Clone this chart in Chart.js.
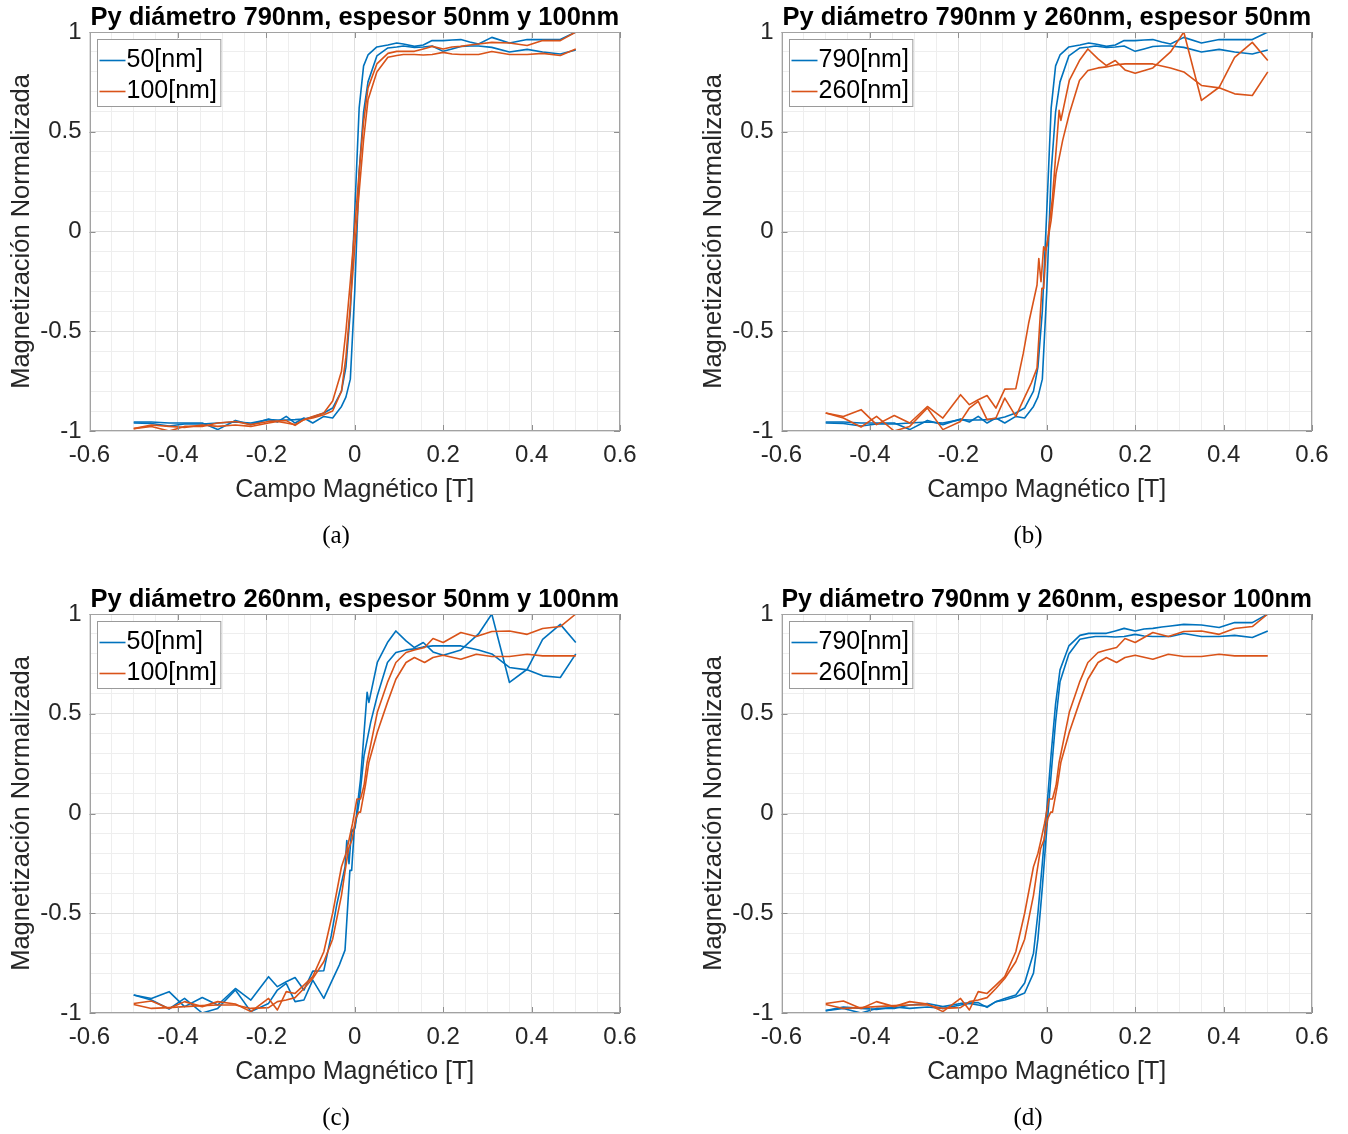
<!DOCTYPE html>
<html>
<head>
<meta charset="utf-8">
<script src="https://cdn.jsdelivr.net/npm/chart.js@4.4.1/dist/chart.umd.min.js"></script>
<style>
  body { margin: 0; width: 1348px; height: 1134px; background: #fff; overflow: hidden; position: relative; }
  .panel { position: absolute; width: 654px; height: 552px; }
  .cap { position: absolute; left: 0; top: 521px; width: 672px; text-align: center;
         font: 25px "Liberation Serif", "DejaVu Serif", serif; line-height: 28px; color: #000; }
</style>
</head>
<body>
<div class="panel" style="left:0;top:0"><canvas id="cA" width="654" height="552"></canvas><div class="cap">(a)</div></div>
<div class="panel" style="left:692px;top:0"><canvas id="cB" width="654" height="552"></canvas><div class="cap">(b)</div></div>
<div class="panel" style="left:0;top:582px"><canvas id="cC" width="654" height="552"></canvas><div class="cap">(c)</div></div>
<div class="panel" style="left:692px;top:582px"><canvas id="cD" width="654" height="552"></canvas><div class="cap">(d)</div></div>
<script>
// Major tick values (labelled) for both axes
const xMajorTicks = [-0.6, -0.4, -0.2, 0, 0.2, 0.4, 0.6];
const yMajorTicks = [-1, -0.5, 0, 0.5, 1];

// Py 790nm diameter, 50nm thick - two branches of the loop
const d790e50_a_x = [-0.5,-0.46,-0.42,-0.385,-0.345,-0.31,-0.27,-0.235,-0.195,-0.175,-0.155,-0.135,-0.115,-0.095,-0.07,-0.05,-0.03,-0.02,-0.01,0,0.01,0.02,0.03,0.05,0.075,0.095,0.11,0.135,0.155,0.175,0.2,0.22,0.24,0.26,0.28,0.31,0.35,0.39,0.425,0.465,0.5];
const d790e50_a_y = [-0.96,-0.962,-0.975,-0.965,-0.965,-0.96,-0.955,-0.96,-0.943,-0.945,-0.945,-0.943,-0.94,-0.93,-0.91,-0.885,-0.8,-0.68,-0.4,0.1,0.62,0.83,0.885,0.925,0.935,0.945,0.94,0.928,0.935,0.957,0.957,0.96,0.962,0.95,0.94,0.973,0.945,0.962,0.962,0.962,1.0];
const d790e50_b_x = d790e50_a_x;
const d790e50_b_y = [-0.955,-0.955,-0.96,-0.96,-0.96,-0.993,-0.947,-0.968,-0.94,-0.955,-0.927,-0.96,-0.935,-0.96,-0.927,-0.935,-0.877,-0.83,-0.74,-0.3,0.3,0.6,0.75,0.88,0.92,0.925,0.93,0.922,0.925,0.93,0.903,0.915,0.927,0.93,0.93,0.923,0.9,0.913,0.9,0.89,0.91];

// Py 790nm diameter, 100nm thick
const d790e100_a_x = d790e50_a_x;
const d790e100_a_y = [-0.988,-0.977,-1.0,-0.977,-0.977,-0.96,-0.952,-0.968,-0.952,-0.95,-0.948,-0.972,-0.943,-0.927,-0.91,-0.85,-0.7,-0.5,-0.25,0.02,0.3,0.55,0.72,0.84,0.893,0.903,0.903,0.903,0.915,0.928,0.915,0.925,0.928,0.935,0.94,0.948,0.945,0.932,0.957,0.957,1.0];
const d790e100_b_x = d790e50_a_x;
const d790e100_b_y = [-0.988,-0.97,-0.977,-0.982,-0.97,-0.977,-0.97,-0.977,-0.96,-0.952,-0.96,-0.968,-0.943,-0.935,-0.918,-0.9,-0.8,-0.63,-0.37,-0.08,0.2,0.46,0.66,0.8,0.873,0.882,0.887,0.887,0.885,0.887,0.898,0.89,0.887,0.887,0.887,0.902,0.887,0.887,0.893,0.882,0.915];

// Py 260nm diameter, 50nm thick
const d260e50_a_x = [-0.5,-0.46,-0.42,-0.385,-0.345,-0.31,-0.27,-0.235,-0.195,-0.175,-0.155,-0.135,-0.115,-0.095,-0.07,-0.053,-0.041,-0.022,-0.018,-0.013,-0.007,-0.003,0.001,0.007,0.013,0.028,0.032,0.051,0.074,0.093,0.116,0.135,0.155,0.177,0.2,0.24,0.28,0.31,0.35,0.39,0.425,0.465,0.5];
const d260e50_a_y = [-0.91,-0.927,-0.893,-0.968,-0.922,-0.96,-0.877,-0.935,-0.818,-0.868,-0.843,-0.822,-0.885,-0.79,-0.788,-0.61,-0.46,-0.268,-0.135,-0.252,-0.077,-0.093,-0.068,0.057,0.17,0.607,0.557,0.757,0.857,0.915,0.865,0.832,0.857,0.81,0.793,0.82,0.9,1.0,0.657,0.723,0.873,0.948,0.857];
const d260e50_b_x = [-0.5,-0.46,-0.42,-0.385,-0.345,-0.31,-0.27,-0.235,-0.195,-0.175,-0.155,-0.135,-0.115,-0.095,-0.07,-0.052,-0.035,-0.022,-0.011,-0.007,-0.001,0.005,0.01,0.021,0.036,0.051,0.074,0.093,0.116,0.135,0.155,0.177,0.2,0.24,0.28,0.31,0.35,0.39,0.425,0.465,0.5];
const d260e50_b_y = [-0.91,-0.935,-0.98,-0.927,-1.0,-0.977,-0.885,-0.993,-0.952,-0.885,-0.852,-0.943,-0.935,-0.835,-0.927,-0.84,-0.76,-0.685,-0.285,-0.285,-0.077,-0.01,0.057,0.29,0.457,0.59,0.757,0.807,0.82,0.825,0.835,0.84,0.84,0.84,0.82,0.8,0.732,0.72,0.69,0.682,0.8];

// Py 260nm diameter, 100nm thick
const d260e100_a_x = [-0.5,-0.46,-0.42,-0.385,-0.345,-0.31,-0.27,-0.235,-0.195,-0.175,-0.155,-0.135,-0.115,-0.095,-0.07,-0.05,-0.03,-0.02,-0.013,-0.005,0.005,0.013,0.021,0.028,0.051,0.074,0.093,0.116,0.135,0.158,0.177,0.2,0.24,0.275,0.31,0.35,0.39,0.425,0.465,0.5];
const d260e100_a_y = [-0.952,-0.94,-0.977,-0.943,-0.968,-0.943,-0.955,-0.993,-0.927,-0.985,-0.893,-0.902,-0.86,-0.818,-0.693,-0.5,-0.267,-0.2,-0.133,-0.05,0.073,0.073,0.14,0.257,0.507,0.657,0.757,0.807,0.82,0.832,0.877,0.857,0.907,0.887,0.912,0.915,0.898,0.927,0.937,1.0];
const d260e100_b_x = [-0.5,-0.46,-0.42,-0.385,-0.345,-0.31,-0.27,-0.235,-0.195,-0.175,-0.155,-0.135,-0.115,-0.095,-0.07,-0.05,-0.03,-0.022,-0.014,-0.006,0.002,0.009,0.013,0.024,0.032,0.051,0.074,0.093,0.116,0.135,0.158,0.177,0.2,0.24,0.275,0.31,0.35,0.39,0.425,0.465,0.5];
const d260e100_b_y = [-0.957,-0.977,-0.973,-0.968,-0.963,-0.96,-0.96,-0.977,-0.973,-0.943,-0.935,-0.923,-0.877,-0.827,-0.743,-0.63,-0.41,-0.29,-0.177,-0.13,-0.027,0.007,0.007,0.14,0.257,0.407,0.557,0.673,0.757,0.782,0.757,0.782,0.793,0.773,0.798,0.787,0.787,0.798,0.79,0.79,0.79];

const BLUE = '#0072BD';
const ORANGE = '#D95319';
const FONT = '"Liberation Sans", Arial, Helvetica, sans-serif';

const loops = {
  d790e50:  [[d790e50_a_x, d790e50_a_y], [d790e50_b_x, d790e50_b_y]],
  d790e100: [[d790e100_a_x, d790e100_a_y], [d790e100_b_x, d790e100_b_y]],
  d260e50:  [[d260e50_a_x, d260e50_a_y], [d260e50_b_x, d260e50_b_y]],
  d260e100: [[d260e100_a_x, d260e100_a_y], [d260e100_b_x, d260e100_b_y]]
};

const panels = [
  { id: 'cA', title: 'Py diámetro 790nm, espesor 50nm y 100nm', blue: 'd790e50',  orange: 'd790e100', names: ['50[nm]', '100[nm]'] },
  { id: 'cB', title: 'Py diámetro 790nm y 260nm, espesor 50nm', blue: 'd790e50',  orange: 'd260e50',  names: ['790[nm]', '260[nm]'] },
  { id: 'cC', title: 'Py diámetro 260nm, espesor 50nm y 100nm', blue: 'd260e50',  orange: 'd260e100', names: ['50[nm]', '100[nm]'] },
  { id: 'cD', title: 'Py diámetro 790nm y 260nm, espesor 100nm', blue: 'd790e100', orange: 'd260e100', names: ['790[nm]', '260[nm]'] }
];

function isMajor(v, list) {
  return list.some(t => Math.abs(t - v) < 1e-6);
}

function fmt(v) {
  return String(Math.round(v * 10) / 10);
}

// each branch of a loop is its own line; only the first one carries the legend name
function branchSets(key, color, name, order) {
  return loops[key].map((b, i) => ({
    label: i === 0 ? name : '',
    data: b[0].map((x, j) => ({ x: x, y: b[1][j] })),
    borderColor: color,
    backgroundColor: color,
    borderWidth: 1.6,
    borderJoinStyle: 'round',
    pointRadius: 0,
    tension: 0,
    fill: false,
    order: order
  }));
}

// inward tick marks, axes box and an inset legend in the top-left corner
const boxAndLegend = {
  id: 'boxAndLegend',
  afterDraw(chart) {
    const { ctx, chartArea: a, scales } = chart;
    ctx.save();
    ctx.lineWidth = 1;
    ctx.strokeStyle = '#8f8f8f';
    ctx.beginPath();
    xMajorTicks.forEach(v => {
      const px = Math.round(scales.x.getPixelForValue(v)) + 0.5;
      ctx.moveTo(px, a.bottom); ctx.lineTo(px, a.bottom - 6);
      ctx.moveTo(px, a.top); ctx.lineTo(px, a.top + 6);
    });
    yMajorTicks.forEach(v => {
      const py = Math.round(scales.y.getPixelForValue(v)) + 0.5;
      ctx.moveTo(a.left, py); ctx.lineTo(a.left + 6, py);
      ctx.moveTo(a.right, py); ctx.lineTo(a.right - 6, py);
    });
    ctx.stroke();
    ctx.strokeStyle = '#a2a2a2';
    ctx.strokeRect(Math.round(a.left) + 0.5, Math.round(a.top) + 0.5,
                   Math.round(a.right) - Math.round(a.left) - 1, Math.round(a.bottom) - Math.round(a.top) - 1);

    const items = chart.data.datasets.filter(d => d.label);
    items.sort((p, q) => q.order - p.order);
    ctx.font = '25px ' + FONT;
    const tw = Math.max.apply(null, items.map(d => ctx.measureText(d.label).width));
    const lx = Math.round(a.left + 7) + 0.5, ly = Math.round(a.top + 7) + 0.5;
    const w = 33 + tw, h = 67;
    ctx.fillStyle = '#fff';
    ctx.fillRect(lx, ly, w, h);
    ctx.strokeStyle = '#9a9a9a';
    ctx.strokeRect(lx, ly, w, h);
    ctx.textBaseline = 'middle';
    ctx.textAlign = 'left';
    items.forEach((d, i) => {
      const cy = ly + 21 + i * 31;
      ctx.strokeStyle = d.borderColor;
      ctx.lineWidth = 1.6;
      ctx.beginPath();
      ctx.moveTo(lx + 2, cy); ctx.lineTo(lx + 28, cy);
      ctx.stroke();
      ctx.fillStyle = '#000';
      ctx.fillText(d.label, lx + 29, cy);
    });
    ctx.restore();
  }
};

panels.forEach(p => {
  const datasets = branchSets(p.blue, BLUE, p.names[0], 1)
    .concat(branchSets(p.orange, ORANGE, p.names[1], 0));

  new Chart(document.getElementById(p.id), {
    type: 'line',
    data: { datasets: datasets },
    options: {
      responsive: false,
      animation: false,
      devicePixelRatio: 1,
      layout: { padding: { left: 0, right: 34, top: 0, bottom: 41 } },
      plugins: {
        legend: { display: false },
        tooltip: { enabled: false },
        title: {
          display: true,
          fullSize: false,
          text: p.title,
          color: '#000',
          font: { family: FONT, size: 25.5, weight: 'bold', lineHeight: 1 },
          padding: { top: 5, bottom: 1.5 }
        }
      },
      scales: {
        x: {
          type: 'linear',
          min: -0.6, max: 0.6,
          afterFit: s => { s.height = 80; },
          border: { display: false },
          grid: {
            drawTicks: false,
            lineWidth: 1,
            color: c => isMajor(c.tick.value, xMajorTicks) ? '#dedede' : '#eeeeee'
          },
          ticks: {
            stepSize: 0.05,
            autoSkip: false,
            maxRotation: 0,
            padding: 9.6,
            color: '#262626',
            font: { family: FONT, size: 24 },
            callback: v => isMajor(v, xMajorTicks) ? fmt(v) : ''
          },
          title: {
            display: true,
            text: 'Campo Magnético [T]',
            color: '#262626',
            font: { family: FONT, size: 25 },
            padding: { top: 0, bottom: 6 }
          }
        },
        y: {
          type: 'linear',
          min: -1, max: 1,
          afterFit: s => { s.width = 89.5; },
          border: { display: false },
          grid: {
            drawTicks: false,
            lineWidth: 1,
            color: c => isMajor(c.tick.value, yMajorTicks) ? '#dedede' : '#eeeeee'
          },
          ticks: {
            stepSize: 0.1,
            autoSkip: false,
            padding: 8,
            color: '#262626',
            font: { family: FONT, size: 24 },
            callback: v => isMajor(v, yMajorTicks) ? fmt(v) : ''
          },
          title: {
            display: true,
            text: 'Magnetización Normalizada',
            color: '#262626',
            font: { family: FONT, size: 25.5 },
            padding: { top: 7, bottom: 0 }
          }
        }
      }
    },
    plugins: [boxAndLegend]
  });
});
</script>
</body>
</html>
